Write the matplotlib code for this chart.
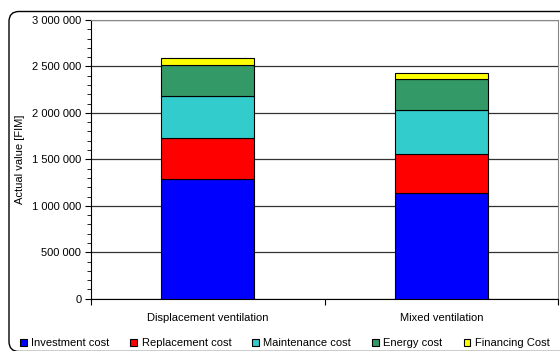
import numpy as np
import matplotlib.pyplot as plt
from matplotlib.patches import FancyBboxPatch
from matplotlib.ticker import FuncFormatter, MultipleLocator

plt.rcParams['font.family'] = ['Liberation Sans', 'DejaVu Sans']

categories = ["Displacement ventilation", "Mixed ventilation"]
cost_names = ["Investment cost", "Replacement cost", "Maintenance cost",
              "Energy cost", "Financing Cost"]
investment = [1290000, 1140000]
replacement = [435000, 415000]
maintenance = [455000, 480000]
energy = [335000, 335000]
financing = [80000, 60000]
colors = ["#0000FF", "#FF0000", "#33CCCC", "#339966", "#FFFF00"]

series = [investment, replacement, maintenance, energy, financing]

fig = plt.figure(figsize=(5.6, 3.51), dpi=100)
ax = fig.add_axes([91/560, 1-298.7/351, 467/560, 278.7/351])

x = np.arange(len(categories))
bottom = np.zeros(len(categories))
for vals, name, c in zip(series, cost_names, colors):
    ax.bar(x, vals, width=0.4, bottom=bottom, color=c, edgecolor="black",
           linewidth=0.8, label=name, zorder=3)
    bottom += np.array(vals)

ax.set_xlim(-0.5, 1.5)
ax.set_ylim(0, 3000000)
ax.yaxis.set_major_locator(MultipleLocator(500000))
ax.yaxis.set_minor_locator(MultipleLocator(100000))
ax.yaxis.set_major_formatter(FuncFormatter(lambda v, p: f"{int(v):,}".replace(",", " ")))
ax.yaxis.grid(True, color="#333333", linewidth=0.9, zorder=0)

# category labels sit between boundary ticks
ax.set_xticks([-0.5, 0.5, 1.5])
ax.set_xticklabels([])
ax.set_xticks(x, minor=True)
ax.set_xticklabels(categories, minor=True)
ax.tick_params(axis="x", which="minor", length=0, pad=10, labelsize=8)
ax.tick_params(axis="x", which="major", length=4, direction="out")
ax.tick_params(axis="y", which="major", length=4, labelsize=8, pad=3)
ax.tick_params(axis="y", which="minor", length=3)

ax.spines["top"].set_color("#888888")
ax.spines["right"].set_color("#888888")
ax.spines["left"].set_color("black")
ax.spines["bottom"].set_color("black")

ax.set_ylabel("Actual value [FIM]", fontsize=8)
ax.yaxis.set_label_coords(-0.141, 0.50)

fig.legend(loc="lower left", bbox_to_anchor=(10/560, -0.02), ncol=5,
           frameon=False, fontsize=8, handlelength=0.6, handleheight=0.6,
           handletextpad=0.4, columnspacing=1.9)

# rounded outer border, running off the right and bottom edges
frame = FancyBboxPatch((0.09, -0.005), 6.0, 3.40,
                       boxstyle="round,pad=0,rounding_size=0.1",
                       transform=fig.dpi_scale_trans, facecolor="none",
                       edgecolor="black", linewidth=1.0, zorder=0)
fig.patches.append(frame)

plt.savefig("out.png", dpi=100)
